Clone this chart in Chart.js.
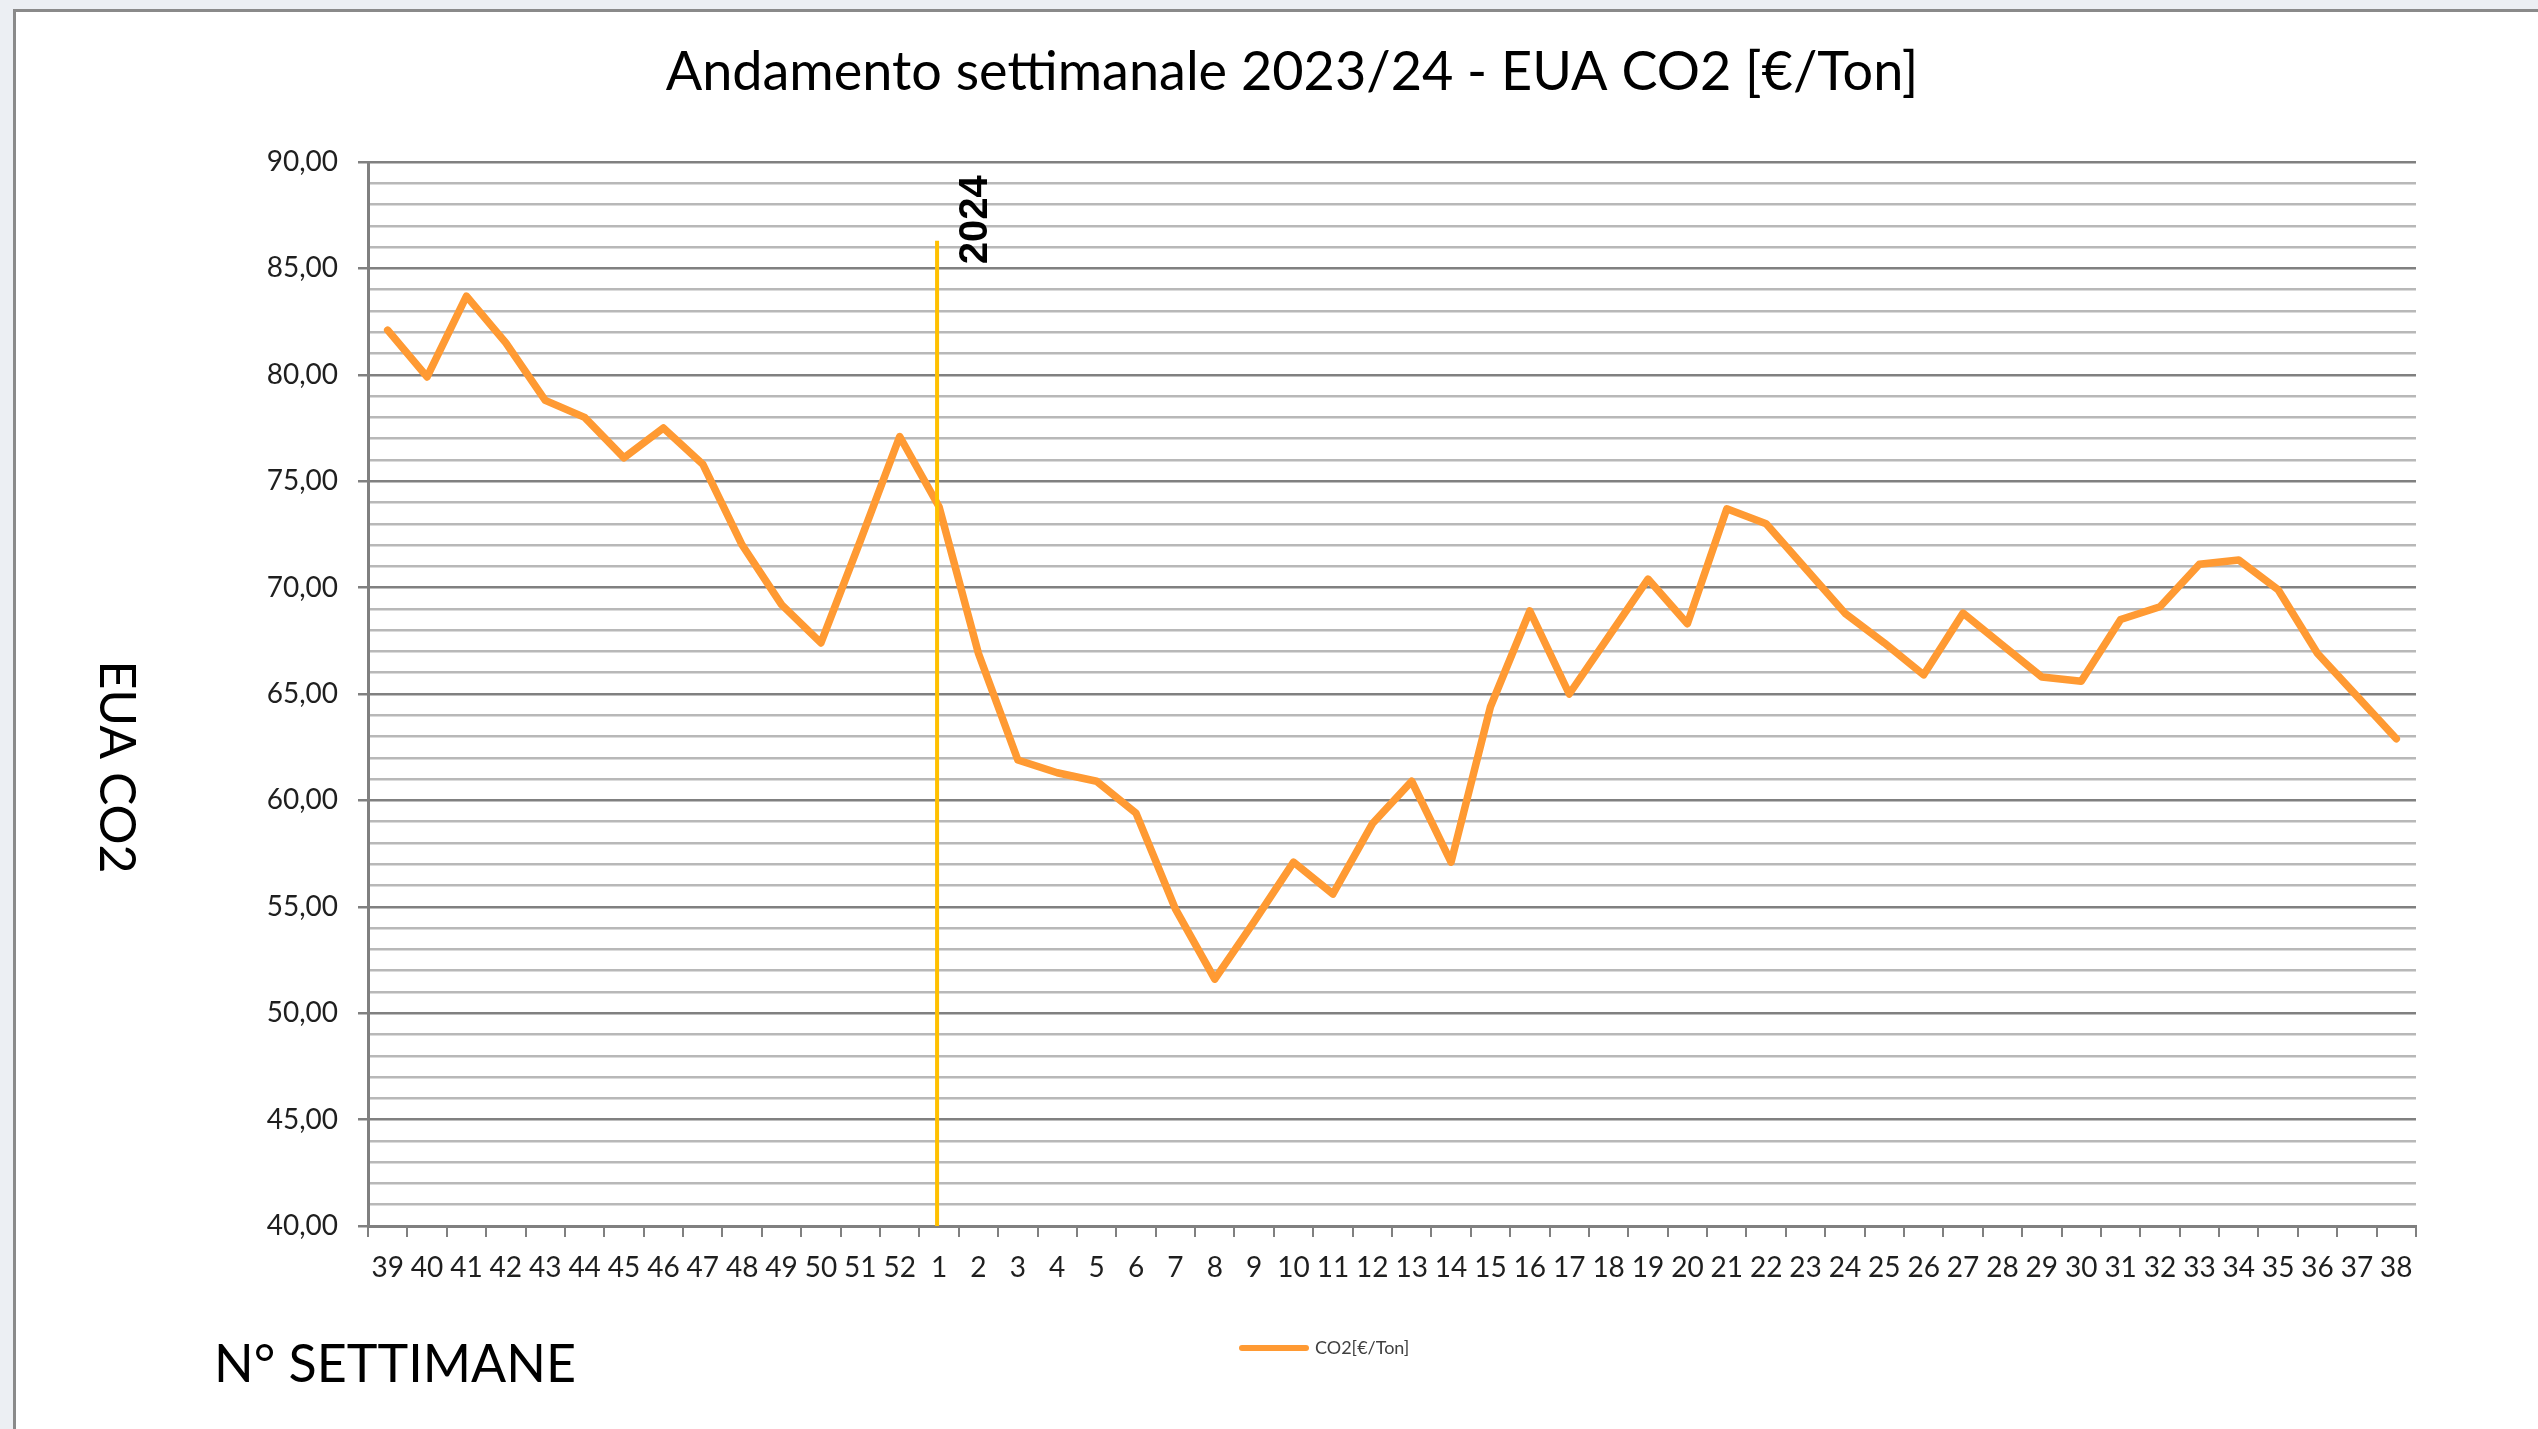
<!DOCTYPE html>
<html>
<head>
<meta charset="utf-8">
<title>Andamento settimanale 2023/24 - EUA CO2</title>
<script src="https://cdn.jsdelivr.net/npm/chart.js@4.4.1/dist/chart.umd.min.js"></script>
<style>
  html, body { margin: 0; padding: 0; overflow: hidden; background: #eceff3; }
  #frame { position: absolute; left: 13px; top: 9px; width: 2600px; height: 1500px; background: #fff; border: 3px solid #8a8a8a; }
  #chart { position: absolute; left: 0; top: 0; }
</style>
</head>
<body>
<div id="frame"></div>
<canvas id="chart" width="2538" height="1429"></canvas>
<script>
// week numbers, 2023 (39-52) then 2024 (1-38)
var weeks = ["39", "40", "41", "42", "43", "44", "45", "46", "47", "48", "49", "50", "51", "52",
   "1", "2", "3", "4", "5", "6", "7", "8", "9", "10", "11", "12", "13", "14", "15", "16", "17", "18", "19",
   "20", "21", "22", "23", "24", "25", "26", "27", "28", "29", "30", "31", "32", "33", "34", "35", "36", "37", "38"];

// EUA CO2 price, €/Ton
var co2 = [82.1, 79.9, 83.7, 81.5, 78.8, 78.0, 76.1, 77.5, 75.8, 72.0, 69.2, 67.4, 72.2, 77.1,
   73.8, 66.9, 61.9, 61.3, 60.9, 59.4, 54.9, 51.6, 54.3, 57.1, 55.6, 58.9, 60.9, 57.1, 64.4, 68.9, 65.0, 67.7, 70.4,
   68.3, 73.7, 73.0, 70.9, 68.8, 67.4, 65.9, 68.8, 67.3, 65.8, 65.6, 68.5, 69.1, 71.1, 71.3, 69.9, 66.9, 64.9, 62.9];

var yMin = 40;
var yMax = 90;
var majorStep = 5;

var chartTitle = "Andamento settimanale 2023/24 - EUA CO2 [€/Ton]";
var yTitle = "EUA CO2";
var xTitle = "N° SETTIMANE";
var seriesLabel = "CO2[€/Ton]";
var newYearWeek = "1";
var newYearLabel = "2024";
var newYearLineTop = 86.3;

var orange = "#ff9a33";
var yellow = "#ffc000";
var axisGrey = "#808080";
var minorGrey = "#b8b8b8";
var textColor = "#1f1f1f";

function fmt(v) {
   return v.toFixed(2).replace(".", ",");
}

Chart.defaults.font.family = "Lato";

var decorations = {
   id: "decorations",
   afterDatasetsDraw: function (chart) {
      var ctx = chart.ctx;
      var x = chart.scales.x.getPixelForValue(weeks.indexOf(newYearWeek)) - 2;
      var top = chart.scales.y.getPixelForValue(newYearLineTop);
      ctx.save();
      // separator 2023 / 2024
      ctx.strokeStyle = yellow;
      ctx.lineWidth = 4;
      ctx.beginPath();
      ctx.moveTo(x, top);
      ctx.lineTo(x, chart.chartArea.bottom);
      ctx.stroke();
      ctx.translate(x + 39, top - 21);
      ctx.rotate(-Math.PI / 2);
      ctx.fillStyle = "#000";
      ctx.font = "bold 40px 'Liberation Sans'";
      ctx.textAlign = "center";
      ctx.textBaseline = "middle";
      ctx.fillText(newYearLabel, 0, 0);
      ctx.restore();
   },
   afterDraw: function (chart) {
      var ctx = chart.ctx;
      ctx.save();
      ctx.fillStyle = "#000";

      // title
      ctx.font = "54px Lato";
      ctx.textAlign = "center";
      ctx.textBaseline = "alphabetic";
      ctx.fillText(chartTitle, 1292, 90);

      // x axis title
      ctx.font = "52px Lato";
      ctx.textAlign = "left";
      ctx.fillText(xTitle, 214, 1382);

      // y axis title, top to bottom
      ctx.save();
      ctx.font = "50px Lato";
      ctx.translate(116, 767);
      ctx.rotate(Math.PI / 2);
      ctx.textAlign = "center";
      ctx.textBaseline = "middle";
      ctx.fillText(yTitle, 0, 0);
      ctx.restore();

      // legend
      var ds = chart.data.datasets[0];
      ctx.strokeStyle = ds.borderColor;
      ctx.lineWidth = 6;
      ctx.lineCap = "round";
      ctx.beginPath();
      ctx.moveTo(1242, 1348);
      ctx.lineTo(1306, 1348);
      ctx.stroke();
      ctx.fillStyle = "#404040";
      ctx.font = "18px Lato";
      ctx.textAlign = "left";
      ctx.textBaseline = "middle";
      ctx.fillText(ds.label, 1315, 1348);
      ctx.restore();
   },
};

var ctx = document.getElementById("chart").getContext("2d");
var chart = new Chart(ctx, {
   type: "line",
   data: {
      labels: weeks,
      datasets: [
         {
            label: seriesLabel,
            data: co2,
            borderColor: orange,
            backgroundColor: orange,
            borderWidth: 7.5,
            borderJoinStyle: "round",
            borderCapStyle: "round",
            pointRadius: 0,
            tension: 0,
            fill: false,
         },
      ],
   },
   options: {
      responsive: false,
      animation: false,
      layout: {
         padding: { left: 228, right: 122, top: 162, bottom: 103 },
      },
      plugins: {
         legend: { display: false },
         title: { display: false },
         tooltip: { enabled: false },
      },
      scales: {
         x: {
            offset: true,
            grid: {
               offset: true,
               drawOnChartArea: false,
               drawTicks: true,
               tickLength: 11,
               color: axisGrey,
               lineWidth: 2,
            },
            border: { display: true, color: axisGrey, width: 3 },
            ticks: {
               autoSkip: false,
               maxRotation: 0,
               minRotation: 0,
               padding: 14,
               color: textColor,
               font: { size: 28 },
            },
            afterFit: function (scale) {
               scale.height = 100;
            },
         },
         y: {
            min: yMin,
            max: yMax,
            ticks: {
               stepSize: 1,
               maxTicksLimit: 100,
               autoSkip: false,
               padding: 20,
               color: textColor,
               font: { size: 28 },
               callback: function (value) {
                  return value % majorStep === 0 ? fmt(value) : "";
               },
            },
            grid: {
               lineWidth: 2.5,
               tickLength: 10,
               color: function (c) {
                  return c.tick && c.tick.value % majorStep === 0 ? axisGrey : minorGrey;
               },
               tickColor: function (c) {
                  return c.tick && c.tick.value % majorStep === 0 ? axisGrey : "rgba(0,0,0,0)";
               },
            },
            border: { display: true, color: axisGrey, width: 3 },
            afterFit: function (scale) {
               scale.width = 140;
            },
         },
      },
   },
   plugins: [decorations],
});
</script>
</body>
</html>
